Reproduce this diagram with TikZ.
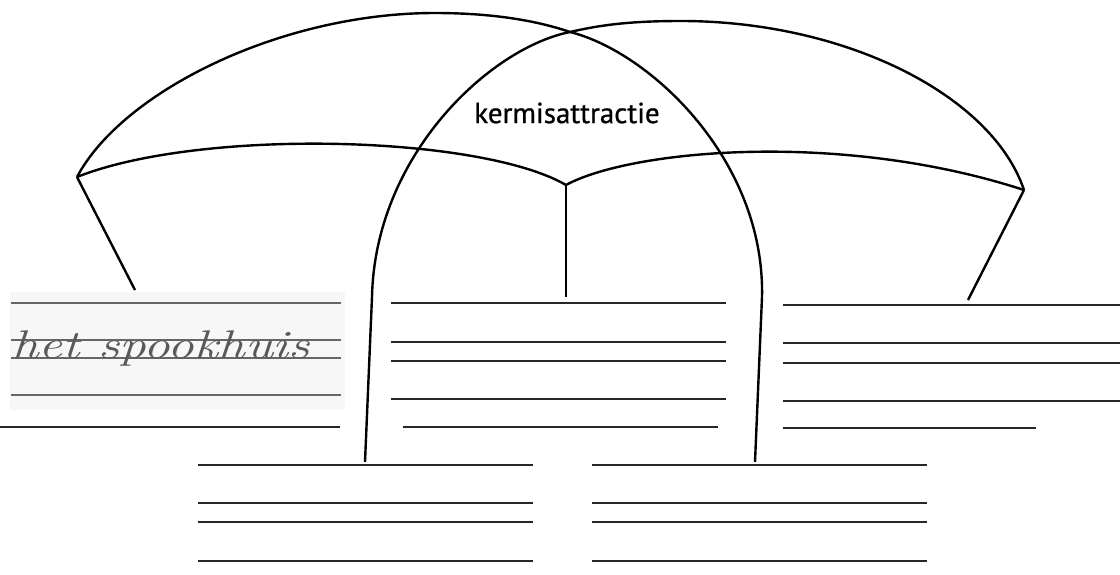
\documentclass[tikz,border=0pt]{standalone}
\usepackage{fontspec}
\newfontfamily\labelfont[FakeBold=0.8]{PT Sans}
\tikzset{
  arc/.style={line width=2.4pt, line join=round},
  wline/.style={line width=2pt, black!85},
  gline/.style={line width=1.6pt, black!60},
}
\begin{document}
\begin{tikzpicture}[x=1pt,y=-1pt]
\useasboundingbox (0,0) rectangle (1120,574);
% key points
\coordinate (L) at (77,177);
\coordinate (R) at (1024,190);
\coordinate (X) at (570,32);
\coordinate (C) at (566,185);
\coordinate (PL) at (435,13);
\coordinate (PR) at (681,21);
\coordinate (DL) at (372,297);
\coordinate (DR) at (762,297);
\coordinate (DLb) at (365,462);
\coordinate (DRb) at (755,462);
\coordinate (Cb) at (566,297);
\coordinate (Lb) at (135,290);
\coordinate (Rb) at (968,300);
% left big arc continuing as right leg of dome
\draw[arc] (L) .. controls (122,92) and (280,13) .. (PL)
  .. controls (490,13) and (535,20) .. (X)
  .. controls (650,52) and (765,160) .. (DR) -- (DRb);
% right big arc continuing as left leg of dome
\draw[arc] (R) .. controls (992,95) and (845,21) .. (PR)
  .. controls (630,21) and (600,25) .. (X)
  .. controls (490,48) and (375,155) .. (DL) -- (DLb);
% middle curves
\draw[arc] (L) .. controls (200,128) and (480,135) .. (C);
\draw[arc] (C) .. controls (630,150) and (840,130) .. (R);
% legs
\draw[arc] (C) -- (Cb);
\draw[arc] (L) -- (Lb);
\draw[arc] (R) -- (Rb);
% label
\node[font=\labelfont\fontsize{29}{33}\selectfont] (title) at (567,113) {kermisattractie};
% left scanned-looking box
\fill[black!3] (10,292) rectangle (345,410);
\foreach \y in {303,340,358,395}
  \draw[gline] (11,\y) -- (341,\y);
\draw[wline] (0,427) -- (340,427);
\node[anchor=base west, text=black!65, inner sep=0pt, xscale=1.33,
  font=\fontsize{40}{44}\selectfont\itshape] (cursive) at (12,358) {het spookhuis};
% middle box
\foreach \y in {303,342,361,399}
  \draw[wline] (391,\y) -- (726,\y);
\draw[wline] (403,427) -- (718,427);
% right box
\foreach \y in {305,343,363,401}
  \draw[wline] (783,\y) -- (1120,\y);
\draw[wline] (783,428) -- (1036,428);
% bottom boxes
\foreach \y in {465,503,522,561} {
  \draw[wline] (198,\y) -- (533,\y);
  \draw[wline] (592,\y) -- (927,\y);
}
\end{tikzpicture}
\end{document}
